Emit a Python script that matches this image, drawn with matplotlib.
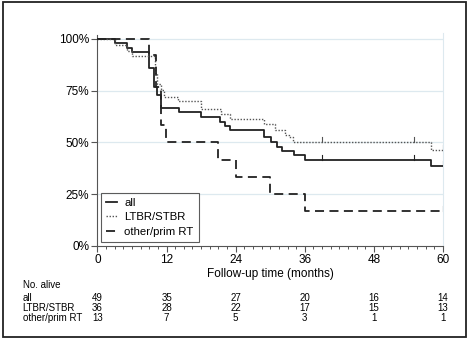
import numpy as np
import matplotlib
matplotlib.use("Agg")
import matplotlib.pyplot as plt
from matplotlib.patches import Rectangle
from matplotlib.transforms import blended_transform_factory

plt.rcParams['font.family'] = ['Liberation Sans', 'DejaVu Sans']

# Kaplan-Meier step curves (months, survival fraction)
all_t = [0, 3, 5.1, 6, 9, 9.9, 10.4, 11.1, 14.2, 18, 21.2, 22.2, 23, 29, 30.1, 31.1, 32.1, 34.1, 36, 58, 60]
all_s = [1.0, 0.979, 0.958, 0.937, 0.858, 0.77, 0.73, 0.668, 0.647, 0.622, 0.60, 0.581, 0.56,
         0.525, 0.501, 0.478, 0.459, 0.438, 0.414, 0.388, 0.388]

ltbr_t = [0, 3, 5.2, 6, 10, 10.4, 11, 11.5, 14, 18, 21.5, 23, 29, 30.8, 32.5, 33.2, 34, 58, 60]
ltbr_s = [1.0, 0.972, 0.944, 0.917, 0.834, 0.785, 0.754, 0.721, 0.70, 0.663, 0.636, 0.614,
          0.59, 0.56, 0.538, 0.525, 0.502, 0.464, 0.464]

other_t = [0, 9, 10.2, 11.1, 11.9, 21, 24, 30, 36, 60]
other_s = [1.0, 0.923, 0.77, 0.585, 0.50, 0.417, 0.335, 0.25, 0.167, 0.167]

# censoring marks
all_cens = [39, 55, 60]
ltbr_cens = [39, 55, 60]
other_cens = [60]

# number at risk table
risk_times = [0, 12, 24, 36, 48, 60]
risk_all = [49, 35, 27, 20, 16, 14]
risk_ltbr = [36, 28, 22, 17, 15, 13]
risk_other = [13, 7, 5, 3, 1, 1]

labels = ["all", "LTBR/STBR", "other/prim RT"]
styles = ["-", (0, (1, 1.2)), (0, (5, 3))]
widths = [1.3, 1.0, 1.3]

fig = plt.figure(figsize=(4.7, 3.38), dpi=100)
ax = fig.add_axes([0.2074, 0.2722, 0.7351, 0.6308])

grid_c = "#dde9ef"
for y in [0.25, 0.5, 0.75, 1.0]:
    ax.axhline(y, color=grid_c, lw=0.9, zorder=0)

series = [(all_t, all_s, all_cens), (ltbr_t, ltbr_s, ltbr_cens), (other_t, other_s, other_cens)]
for (t, s, cens), lab, ls, lw in zip(series, labels, styles, widths):
    col = "#222222" if ls != styles[1] else "#555555"
    ax.step(t, s, where="post", color=col, ls=ls, lw=lw, label=lab, zorder=3)
    for c in cens:
        yv = s[np.searchsorted(t, c, side="right") - 1]
        ax.plot([c, c], [yv, yv + 0.025], color=col, lw=0.8, zorder=3)

ax.set_xlim(0, 60)
ax.set_ylim(0, 1.03)
ax.spines["top"].set_visible(False)
ax.spines["right"].set_color(grid_c)
ax.spines["left"].set_color("#555555")
ax.spines["bottom"].set_color("#555555")
ax.spines["left"].set_bounds(0, 1.02)

ax.set_xticks(risk_times)
ax.set_xticks(np.arange(0, 60.1, 1.5), minor=True)
ax.set_yticks([0, 0.25, 0.5, 0.75, 1.0])
ax.set_yticklabels(["0%", "25%", "50%", "75%", "100%"])
ax.tick_params(axis="both", labelsize=8.5, color="#555555", length=4, width=0.8, pad=2)
ax.tick_params(axis="x", which="minor", length=2, color="#555555", width=0.7)
ax.set_xlabel("Follow-up time (months)", fontsize=8.5, labelpad=1)

leg = ax.legend(loc="lower left", bbox_to_anchor=(0.01, 0.018), fontsize=8.2,
                handlelength=1.0, handletextpad=0.6, labelspacing=0.4,
                fancybox=False, borderpad=0.45, borderaxespad=0)
leg.get_frame().set_edgecolor("#333333")
leg.get_frame().set_linewidth(0.8)

# risk table below the plot
tr = blended_transform_factory(ax.transData, fig.transFigure)
fs = 7
fig.text(0.048, 0.157, "No. alive", fontsize=fs, va="center")
rows = [("all", risk_all, 0.119), ("LTBR/STBR", risk_ltbr, 0.0895), ("other/prim RT", risk_other, 0.060)]
for name, vals, yy in rows:
    fig.text(0.048, yy, name, fontsize=fs, va="center")
    for xt, v in zip(risk_times, vals):
        ax.text(xt, yy, str(v), transform=tr, fontsize=fs, ha="center", va="center", clip_on=False)

fig.patches.append(Rectangle((0.006, 0.004), 0.986, 0.99, transform=fig.transFigure,
                             fill=False, lw=1.3, edgecolor="#222222"))

fig.savefig("out.png", dpi=100)
